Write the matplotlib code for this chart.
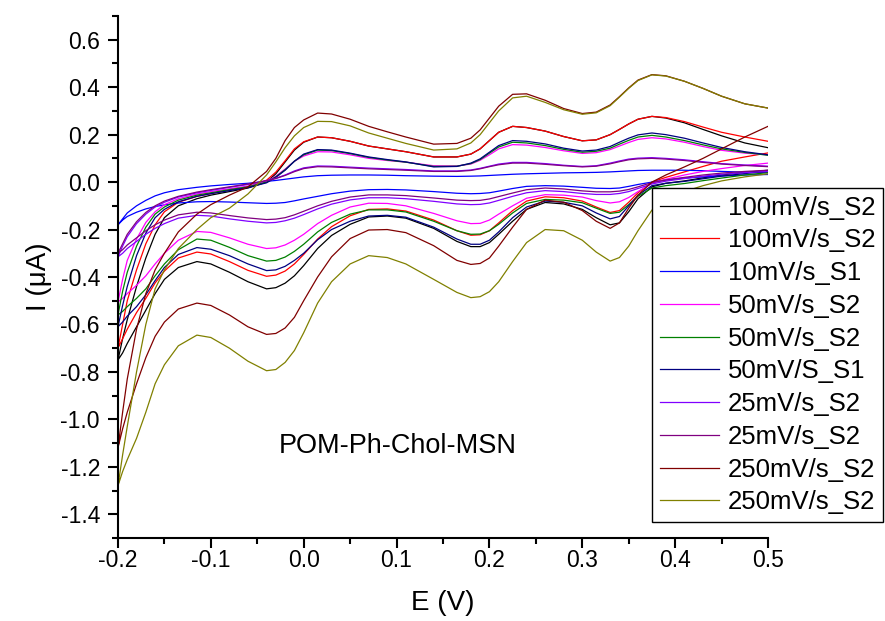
import numpy as np
import matplotlib
matplotlib.use("Agg")
import matplotlib.pyplot as plt
from matplotlib.ticker import MultipleLocator, FuncFormatter

plt.rcParams['font.family'] = ['Liberation Sans', 'DejaVu Sans']

# potential grid (V), shared by forward (anodic) and reverse (cathodic) branches
E = [-0.2, -0.195, -0.19, -0.18, -0.17, -0.16, -0.15, -0.135, -0.115,
     -0.1, -0.08, -0.06, -0.04, -0.03, -0.02, -0.01, 0.0, 0.015,
     0.03, 0.05, 0.07, 0.09, 0.11, 0.14, 0.165, 0.18, 0.19, 0.2, 0.21, 0.225,
     0.24, 0.26, 0.28, 0.3, 0.315, 0.33, 0.34, 0.35, 0.36, 0.375,
     0.39, 0.41, 0.43, 0.45, 0.475, 0.5]

labels = ['100mV/s_S2', '100mV/s_S2', '10mV/s_S1', '50mV/s_S2', '50mV/s_S2',
          '50mV/S_S1', '25mV/s_S2', '25mV/s_S2', '250mV/s_S2', '250mV/s_S2']
colors = ['#000000', '#FF0000', '#0000FF', '#FF00FF', '#008000',
          '#000080', '#8000FF', '#800080', '#800000', '#808000']

# current (uA) on the forward scan
fwd_100a = [-0.75, -0.66, -0.58, -0.44, -0.32, -0.22, -0.15, -0.1, -0.07,
            -0.055, -0.04, -0.025, 0.0, 0.035, 0.085, 0.135, 0.168, 0.19,
            0.187, 0.172, 0.152, 0.14, 0.128, 0.106, 0.106, 0.118, 0.14, 0.175, 0.21, 0.235,
            0.23, 0.215, 0.192, 0.174, 0.178, 0.2, 0.222, 0.245, 0.265, 0.277,
            0.27, 0.25, 0.222, 0.195, 0.165, 0.145]
fwd_100b = [-0.70, -0.6, -0.5, -0.37, -0.26, -0.18, -0.125, -0.085, -0.06,
            -0.048, -0.033, -0.02, 0.008, 0.042, 0.09, 0.14, 0.17, 0.19,
            0.187, 0.172, 0.152, 0.14, 0.128, 0.106, 0.106, 0.118, 0.14, 0.175, 0.21, 0.235,
            0.23, 0.215, 0.192, 0.174, 0.178, 0.2, 0.222, 0.245, 0.265, 0.277,
            0.272, 0.255, 0.232, 0.21, 0.19, 0.172]
fwd_10 = [-0.18, -0.155, -0.13, -0.1, -0.077, -0.058, -0.045, -0.032, -0.022,
          -0.016, -0.01, -0.005, 0.003, 0.007, 0.012, 0.017, 0.022, 0.027,
          0.029, 0.03, 0.03, 0.029, 0.027, 0.025, 0.024, 0.025, 0.026, 0.028, 0.03, 0.033,
          0.035, 0.037, 0.039, 0.04, 0.041, 0.043, 0.045, 0.047, 0.049, 0.05,
          0.05, 0.05, 0.048, 0.045, 0.042, 0.04]
fwd_50a = [-0.505, -0.41, -0.33, -0.24, -0.17, -0.125, -0.095, -0.07, -0.05,
           -0.04, -0.028, -0.017, 0.003, 0.025, 0.055, 0.088, 0.11, 0.128,
           0.127, 0.115, 0.1, 0.091, 0.084, 0.069, 0.068, 0.076, 0.092, 0.115, 0.14, 0.158,
           0.156, 0.146, 0.132, 0.121, 0.124, 0.137, 0.152, 0.167, 0.18, 0.187,
           0.182, 0.168, 0.15, 0.134, 0.122, 0.115]
fwd_50b = [-0.56, -0.46, -0.38, -0.27, -0.19, -0.135, -0.105, -0.076, -0.055,
           -0.045, -0.032, -0.02, 0.0, 0.022, 0.052, 0.088, 0.115, 0.135,
           0.133, 0.12, 0.104, 0.093, 0.084, 0.066, 0.067, 0.078, 0.095, 0.122, 0.148, 0.168,
           0.165, 0.154, 0.138, 0.126, 0.13, 0.143, 0.16, 0.176, 0.19, 0.197,
           0.19, 0.175, 0.157, 0.14, 0.125, 0.113]
fwd_50s1 = [-0.61, -0.52, -0.44, -0.31, -0.215, -0.15, -0.115, -0.083, -0.06,
            -0.049, -0.036, -0.023, -0.003, 0.02, 0.05, 0.088, 0.118, 0.137,
            0.135, 0.122, 0.106, 0.095, 0.085, 0.064, 0.066, 0.08, 0.098, 0.126, 0.154, 0.175,
            0.172, 0.161, 0.143, 0.131, 0.135, 0.15, 0.168, 0.185, 0.199, 0.207,
            0.2, 0.185, 0.165, 0.146, 0.128, 0.115]
fwd_25a = [-0.315, -0.27, -0.23, -0.175, -0.135, -0.105, -0.085, -0.063, -0.045,
           -0.035, -0.022, -0.01, 0.006, 0.016, 0.03, 0.047, 0.06, 0.068,
           0.067, 0.063, 0.059, 0.056, 0.053, 0.047, 0.047, 0.051, 0.058, 0.067, 0.076, 0.083,
           0.083, 0.078, 0.071, 0.066, 0.069, 0.08, 0.089, 0.097, 0.101, 0.103,
           0.1, 0.094, 0.086, 0.078, 0.072, 0.067]
fwd_25b = [-0.30, -0.26, -0.22, -0.167, -0.128, -0.1, -0.08, -0.06, -0.042,
           -0.032, -0.02, -0.008, 0.006, 0.015, 0.028, 0.044, 0.057, 0.065,
           0.064, 0.06, 0.056, 0.053, 0.05, 0.045, 0.045, 0.049, 0.056, 0.065, 0.073, 0.08,
           0.08, 0.075, 0.069, 0.064, 0.067, 0.077, 0.086, 0.094, 0.098, 0.1,
           0.097, 0.091, 0.083, 0.076, 0.07, 0.065]
fwd_250a = [-1.12, -0.97, -0.83, -0.62, -0.47, -0.37, -0.3, -0.21, -0.135,
            -0.095, -0.055, -0.02, 0.045, 0.1, 0.175, 0.23, 0.262, 0.291,
            0.287, 0.265, 0.235, 0.212, 0.19, 0.16, 0.163, 0.185, 0.22, 0.27, 0.32, 0.37,
            0.372, 0.345, 0.31, 0.289, 0.295, 0.325, 0.36, 0.397, 0.43, 0.453,
            0.448, 0.425, 0.395, 0.362, 0.33, 0.312]
fwd_250b = [-1.28, -1.15, -1.03, -0.8, -0.6, -0.45, -0.37, -0.28, -0.2,
            -0.15, -0.11, -0.05, 0.03, 0.085, 0.145, 0.195, 0.23, 0.256,
            0.255, 0.237, 0.207, 0.185, 0.163, 0.135, 0.14, 0.165, 0.2, 0.25, 0.3, 0.355,
            0.362, 0.336, 0.305, 0.286, 0.292, 0.322, 0.358, 0.395, 0.428, 0.452,
            0.447, 0.425, 0.395, 0.362, 0.33, 0.312]

# current (uA) on the reverse scan, listed on the same grid (left to right)
rev_100a = [-0.75, -0.72, -0.68, -0.61, -0.54, -0.47, -0.41, -0.36, -0.335,
            -0.345, -0.38, -0.42, -0.45, -0.445, -0.426, -0.395, -0.352, -0.28,
            -0.225, -0.178, -0.147, -0.143, -0.152, -0.195, -0.25, -0.272, -0.272, -0.255, -0.22, -0.165,
            -0.115, -0.086, -0.092, -0.115, -0.15, -0.18, -0.172, -0.125, -0.07, -0.02,
            -0.005, 0.005, 0.018, 0.03, 0.041, 0.05]
rev_100b = [-0.70, -0.66, -0.62, -0.55, -0.49, -0.425, -0.375, -0.32, -0.295,
            -0.303, -0.335, -0.372, -0.397, -0.392, -0.375, -0.345, -0.305, -0.24,
            -0.188, -0.142, -0.115, -0.113, -0.122, -0.16, -0.205, -0.224, -0.222, -0.205, -0.172, -0.12,
            -0.08, -0.062, -0.066, -0.08, -0.105, -0.128, -0.12, -0.085, -0.045, 0.0,
            0.02, 0.043, 0.066, 0.088, 0.106, 0.123]
rev_10 = [-0.18, -0.16, -0.145, -0.127, -0.113, -0.103, -0.096, -0.088, -0.083,
          -0.082, -0.084, -0.087, -0.09, -0.089, -0.086, -0.079, -0.071, -0.06,
          -0.049, -0.038, -0.032, -0.031, -0.033, -0.04, -0.047, -0.049, -0.048, -0.045, -0.038, -0.027,
          -0.018, -0.015, -0.017, -0.022, -0.026, -0.027, -0.025, -0.018, -0.01, 0.0,
          0.009, 0.017, 0.022, 0.026, 0.03, 0.032]
rev_50a = [-0.505, -0.49, -0.47, -0.435, -0.395, -0.345, -0.3, -0.245, -0.208,
           -0.212, -0.235, -0.262, -0.28, -0.277, -0.265, -0.245, -0.22, -0.175,
           -0.14, -0.105, -0.089, -0.09, -0.1, -0.132, -0.163, -0.175, -0.174, -0.16, -0.135, -0.1,
           -0.068, -0.053, -0.055, -0.063, -0.078, -0.088, -0.083, -0.065, -0.04, -0.005,
           0.012, 0.03, 0.045, 0.057, 0.07, 0.08]
rev_50b = [-0.56, -0.545, -0.525, -0.49, -0.45, -0.395, -0.345, -0.285, -0.24,
           -0.245, -0.275, -0.31, -0.333, -0.33, -0.316, -0.292, -0.262, -0.21,
           -0.17, -0.135, -0.117, -0.117, -0.126, -0.165, -0.205, -0.22, -0.219, -0.205, -0.178, -0.13,
           -0.09, -0.073, -0.076, -0.087, -0.11, -0.132, -0.127, -0.095, -0.06, -0.025,
           -0.015, -0.006, 0.006, 0.017, 0.03, 0.04]
rev_50s1 = [-0.61, -0.59, -0.565, -0.525, -0.475, -0.415, -0.36, -0.305, -0.276,
            -0.283, -0.31, -0.345, -0.373, -0.37, -0.355, -0.33, -0.3, -0.243,
            -0.2, -0.165, -0.143, -0.14, -0.148, -0.19, -0.24, -0.262, -0.262, -0.245, -0.21, -0.15,
            -0.105, -0.08, -0.085, -0.1, -0.13, -0.155, -0.145, -0.1, -0.055, -0.015,
            -0.005, 0.003, 0.014, 0.025, 0.036, 0.045]
rev_25a = [-0.315, -0.3, -0.28, -0.25, -0.22, -0.195, -0.175, -0.152, -0.14,
           -0.143, -0.155, -0.165, -0.172, -0.17, -0.163, -0.152, -0.137, -0.113,
           -0.093, -0.075, -0.066, -0.066, -0.07, -0.081, -0.092, -0.095, -0.094, -0.088, -0.077, -0.06,
           -0.045, -0.036, -0.04, -0.048, -0.052, -0.052, -0.048, -0.04, -0.027, -0.008,
           0.004, 0.015, 0.025, 0.033, 0.04, 0.045]
rev_25b = [-0.30, -0.285, -0.265, -0.235, -0.205, -0.18, -0.16, -0.138, -0.127,
           -0.13, -0.141, -0.151, -0.158, -0.156, -0.15, -0.138, -0.123, -0.1,
           -0.081, -0.063, -0.054, -0.054, -0.057, -0.067, -0.076, -0.078, -0.077, -0.071, -0.061, -0.046,
           -0.032, -0.025, -0.029, -0.037, -0.041, -0.041, -0.038, -0.031, -0.02, -0.002,
           0.009, 0.02, 0.03, 0.038, 0.045, 0.05]
rev_250a = [-1.12, -1.04, -0.97, -0.85, -0.74, -0.65, -0.59, -0.535, -0.51,
            -0.52, -0.56, -0.61, -0.642, -0.638, -0.615, -0.57, -0.5, -0.4,
            -0.315, -0.238, -0.202, -0.2, -0.213, -0.268, -0.33, -0.347, -0.343, -0.32, -0.27, -0.19,
            -0.115, -0.076, -0.085, -0.12, -0.165, -0.195, -0.172, -0.11, -0.055, 0.0,
            0.03, 0.064, 0.1, 0.14, 0.19, 0.235]
rev_250b = [-1.28, -1.22, -1.17, -1.08, -0.97, -0.85, -0.77, -0.69, -0.645,
            -0.655, -0.7, -0.755, -0.795, -0.79, -0.76, -0.71, -0.635, -0.51,
            -0.42, -0.345, -0.31, -0.318, -0.345, -0.41, -0.465, -0.487, -0.483, -0.462, -0.42, -0.335,
            -0.255, -0.2, -0.205, -0.245, -0.295, -0.333, -0.318, -0.27, -0.205, -0.118,
            -0.075, -0.04, -0.015, 0.005, 0.022, 0.035]

forward = [fwd_100a, fwd_100b, fwd_10, fwd_50a, fwd_50b, fwd_50s1, fwd_25a, fwd_25b, fwd_250a, fwd_250b]
reverse = [rev_100a, rev_100b, rev_10, rev_50a, rev_50b, rev_50s1, rev_25a, rev_25b, rev_250a, rev_250b]

fig = plt.figure(figsize=(8.85, 6.21), dpi=100)
ax = fig.add_axes([0.1333, 0.1337, 0.7345, 0.8405])

for f, r, c, lab in zip(forward, reverse, colors, labels):
    # forward scan, then reverse scan (break between so the vertex jump is not drawn)
    x = list(E) + [np.nan] + list(E[::-1])
    y = list(f) + [np.nan] + list(r[::-1])
    ax.plot(x, y, color=c, lw=0.9, label=lab)

ax.set_xlim(-0.2, 0.5)
ax.set_ylim(-1.5, 0.7)
ax.xaxis.set_major_locator(MultipleLocator(0.1))
ax.xaxis.set_minor_locator(MultipleLocator(0.05))
ax.yaxis.set_minor_locator(MultipleLocator(0.1))
ax.set_yticks(np.arange(-1.4, 0.61, 0.2))
fmt = FuncFormatter(lambda v, p: f'{round(v, 1) + 0:.1f}')
ax.xaxis.set_major_formatter(fmt)
ax.yaxis.set_major_formatter(fmt)

ax.spines['top'].set_visible(False)
ax.spines['right'].set_visible(False)
ax.spines['left'].set_linewidth(1.5)
ax.spines['bottom'].set_linewidth(1.5)
ax.tick_params(which='major', direction='out', length=7, width=1.5, labelsize=16.5)
ax.tick_params(axis='x', which='major', pad=1)
ax.tick_params(axis='y', which='major', pad=6)
ax.tick_params(which='minor', direction='out', length=4, width=1.5)

ax.set_xlabel('E (V)', fontsize=20, labelpad=13)
ax.set_ylabel('I (\u03bcA)', fontsize=20, labelpad=6)

ax.text(-0.027, -1.114, 'POM-Ph-Chol-MSN', fontsize=19.5, va='center')

leg = ax.legend(loc='upper left', bbox_to_anchor=(0.8215, 0.6705), borderaxespad=0,
                fontsize=18.5, frameon=True, fancybox=False, framealpha=1,
                handlelength=2.3, handletextpad=0.35, labelspacing=0.34, borderpad=0.3)
leg.get_frame().set_edgecolor('black')
leg.get_frame().set_linewidth(1.0)

fig.savefig('out.png', dpi=100)
